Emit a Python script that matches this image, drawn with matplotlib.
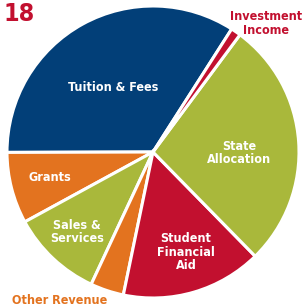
import matplotlib
matplotlib.use("Agg")
import matplotlib.pyplot as plt

# revenue shares (percent), counter-clockwise from Tuition
categories = ["Tuition & Fees", "Grants", "Sales & Services", "Other Revenue",
              "Student Financial Aid", "State Allocation", "Investment Income"]
shares = [34.1, 7.9, 10.1, 3.7, 15.6, 27.5, 1.1]

blue = "#023f78"
red = "#c2102f"
olive = "#a9b83b"
orange = "#e3731f"
colors = [blue, orange, olive, orange, red, olive, red]

plt.rcParams["font.family"] = ["DejaVu Sans"]
plt.rcParams["font.stretch"] = "condensed"

fig = plt.figure(figsize=(3.02, 3.06), dpi=100)
ax = fig.add_axes([7 / 302, 8 / 306, 292 / 302, 292 / 306])

ax.pie(shares, colors=colors, startangle=57.4, counterclock=True,
       wedgeprops=dict(edgecolor="white", linewidth=2.2))
ax.set_xlim(-1, 1)
ax.set_ylim(-1, 1)
ax.axis("off")

# labels inside the wedges
inside = {
    "Tuition & Fees": (-0.274, 0.445, "Tuition & Fees"),
    "State Allocation": (0.589, -0.007, "State\nAllocation"),
    "Grants": (-0.705, -0.178, "Grants"),
    "Sales & Services": (-0.52, -0.548, "Sales &\nServices"),
    "Student Financial Aid": (0.226, -0.685, "Student\nFinancial\nAid"),
}
for name, (x, y, txt) in inside.items():
    ax.text(x, y, txt, color="white", fontsize=9, fontweight="bold",
            ha="center", va="center", linespacing=1.05)

ax.text(0.774, 0.88, "Investment\nIncome", color=red, fontsize=9,
        fontweight="bold", ha="center", va="center", linespacing=1.05,
        clip_on=False)
ax.text(-0.637, -1.015, "Other Revenue", color=orange, fontsize=9,
        fontweight="bold", ha="center", va="center", clip_on=False)

fig.text(3 / 302, 1 - 14 / 306, "18", color=red, fontsize=18,
         fontweight="bold", ha="left", va="center")

fig.savefig("out.png", dpi=100)
